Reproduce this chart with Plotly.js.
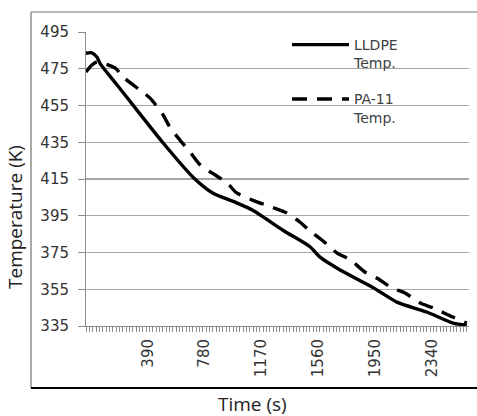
<!DOCTYPE html>
<html>
<head>
<meta charset="utf-8">
<script src="https://cdn.plot.ly/plotly-3.0.1.min.js"></script>
<style>html,body{margin:0;padding:0;background:#fff;}#chart{width:477px;height:416px;}</style>
</head>
<body>
<div id="chart"></div>
<script>
// Time (s) and temperature (K)
var timeLLDPE = [0, 40, 75, 95, 215, 350, 530, 735, 870, 1035, 1145, 1355, 1540, 1605, 1745, 1970, 2135, 2340, 2520, 2615];
var tempLLDPE = [483.4, 483.7, 481.4, 478.1, 466, 452.5, 434.6, 416, 407.4, 402, 398, 387, 378, 372.6, 365.5, 356, 348, 342.6, 336.6, 335.5];

var timePA11 = [0, 40, 75, 200, 255, 370, 440, 530, 575, 645, 715, 785, 865, 970, 1035, 1160, 1265, 1380, 1450, 1550, 1620, 1725, 1815, 1915, 2000, 2100, 2190, 2295, 2385, 2515, 2615];
var tempPA11 = [473.2, 477, 478.7, 475.4, 470.5, 463.4, 459, 449.8, 443.3, 436.2, 429.7, 422.6, 418.3, 412.8, 407.4, 403, 400, 396.5, 392.7, 386, 381.8, 374.7, 371, 364.4, 361, 355.7, 353, 347.5, 344.8, 340, 336.6];

var seriesNames = ['LLDPE<br>Temp.', 'PA-11<br>Temp.'];
var xTickVals = [390, 780, 1170, 1560, 1950, 2340];
var yTickVals = [335, 355, 375, 395, 415, 435, 455, 475, 495];

var traces = [
  {x: timeLLDPE, y: tempLLDPE, name: seriesNames[0], type: 'scatter', mode: 'lines',
   legendgroup: 'a',
   line: {color: '#000', width: 3.4, shape: 'spline', smoothing: 0.7}},
  {x: timePA11, y: tempPA11, name: seriesNames[1], type: 'scatter', mode: 'lines',
   legendgroup: 'b',
   line: {color: '#000', width: 3.4, dash: '15px,10px', shape: 'spline', smoothing: 0.7}}
];

function px(X){ return (X - 86) / 383; }
function py(Y){ return (326 - Y) / 294; }

var layout = {
  width: 477, height: 416,
  margin: {l: 86, r: 8, t: 32, b: 90},
  paper_bgcolor: '#fff', plot_bgcolor: '#fff',
  showlegend: true,
  legend: {
    x: px(287), y: py(29), xanchor: 'left', yanchor: 'top',
    bgcolor: 'rgba(0,0,0,0)', borderwidth: 0,
    font: {family: 'DejaVu Sans', size: 14, color: '#404040'},
    itemwidth: 57, valign: 'top', traceorder: 'grouped', tracegroupgap: 15
  },
  xaxis: {
    type: 'linear', range: [0, 2630],
    tickmode: 'array', tickvals: xTickVals, ticktext: xTickVals.map(String),
    tickangle: -90, ticklabelshift: 5, ticklabelstandoff: 1,
    ticks: 'outside', ticklen: 5, tickcolor: '#8c8c8c', tickwidth: 1,
    minor: {tickmode: 'linear', tick0: 0, dtick: 390/17, ticks: 'outside', ticklen: 5, tickcolor: '#8c8c8c', tickwidth: 1, showgrid: false},
    showgrid: false, zeroline: false,
    showline: true, linecolor: '#8c8c8c', linewidth: 1,
    tickfont: {family: 'DejaVu Sans', size: 15, color: '#333'}
  },
  yaxis: {
    range: [335, 495], tickmode: 'array', tickvals: yTickVals, ticktext: yTickVals.map(String),
    ticks: 'outside', ticklen: 7, tickcolor: '#8c8c8c', tickwidth: 1,
    ticklabelstandoff: 6,
    showgrid: true, gridcolor: '#a6a6a6', gridwidth: 1.3, zeroline: false,
    showline: true, linecolor: '#8c8c8c', linewidth: 1,
    tickfont: {family: 'DejaVu Sans', size: 15, color: '#333'}
  },
  shapes: [
    {type: 'line', xref: 'paper', yref: 'paper', x0: px(31), x1: px(31), y0: py(388), y1: py(12), line: {color: '#8c8c8c', width: 1.5}},
    {type: 'line', xref: 'paper', yref: 'paper', x0: px(31), x1: px(480), y0: py(12), y1: py(12), line: {color: '#a0a0a0', width: 1.5}},
    {type: 'line', xref: 'paper', yref: 'paper', x0: px(31), x1: px(480), y0: py(388), y1: py(388), line: {color: '#000', width: 2}}
  ],
  annotations: [
    {text: 'Temperature (K)', xref: 'paper', yref: 'paper', x: px(15), y: py(217), textangle: -90,
     showarrow: false, xanchor: 'center', yanchor: 'middle',
     font: {family: 'Open Sans', size: 19, color: '#222'}},
    {text: 'Time (s)', xref: 'paper', yref: 'paper', x: px(252), y: py(404),
     showarrow: false, xanchor: 'center', yanchor: 'middle',
     font: {family: 'Open Sans', size: 19, color: '#222'}}
  ]
};

Plotly.newPlot('chart', traces, layout, {displayModeBar: false, staticPlot: true});
</script>
</body>
</html>
